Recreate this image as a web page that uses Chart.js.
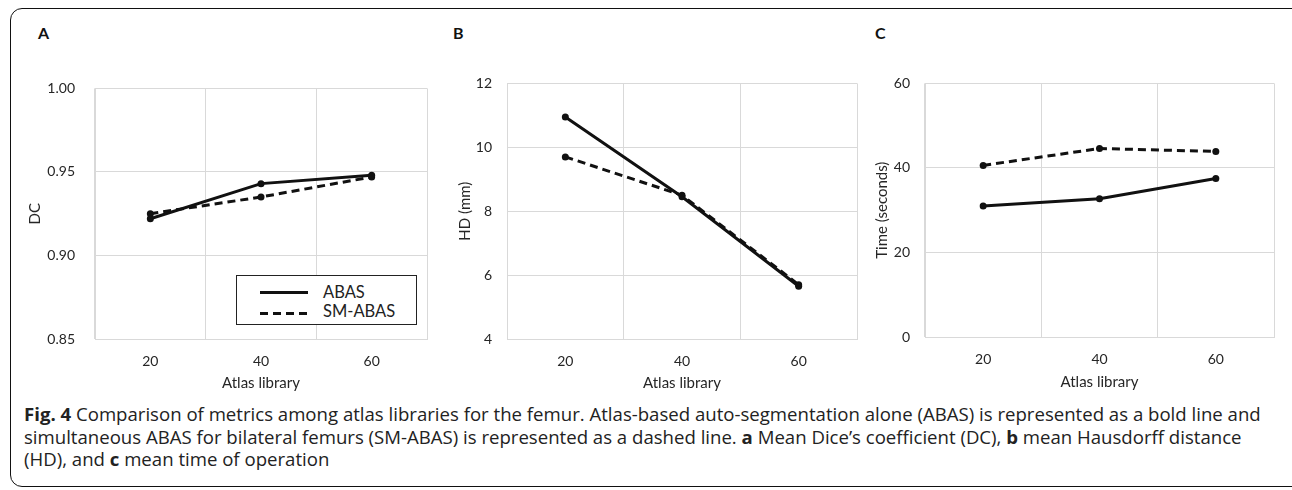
<!DOCTYPE html>
<html>
<head>
<meta charset="utf-8">
<script src="https://cdn.jsdelivr.net/npm/chart.js@4/dist/chart.umd.min.js"></script>
<style>
  body { margin: 0; background: #fff; width: 1292px; height: 490px; overflow: hidden; position: relative; }
  #frame { position: absolute; left: 10px; top: 8px; width: 1300px; height: 477px; border: 1.5px solid #111; border-radius: 12px; }
  canvas { position: absolute; }
  .letter { position: absolute; font: bold 16px Lato, sans-serif; color: #111; }
  #legendA { position: absolute; left: 236px; top: 275px; width: 179px; height: 48px; border: 1px solid #222; background: #fff; }
  .sample { position: absolute; left: 23px; width: 48px; height: 3px; }
  .solid { background: #111; }
  .dashed { background: repeating-linear-gradient(90deg, #111 0 8px, transparent 8px 13px); }
  .ltext { position: absolute; left: 86px; font: 16.5px Lato, sans-serif; color: #222; line-height: 18px; }
  #caption { position: absolute; left: 24px; top: 403px; font: 18.6px "Open Sans", sans-serif; line-height: 22.5px; color: #222; white-space: nowrap; }
</style>
</head>
<body>
<div id="frame"></div>
<div class="letter" style="left:38px;top:23px">A</div>
<div class="letter" style="left:453px;top:23px">B</div>
<div class="letter" style="left:875px;top:23px">C</div>

<canvas id="chartA" width="440" height="332" style="left:0px;top:60px"></canvas>
<canvas id="chartB" width="430" height="332" style="left:440px;top:60px"></canvas>
<canvas id="chartC" width="432" height="331" style="left:860px;top:60px"></canvas>

<div id="legendA">
  <div class="sample solid" style="top:15px"></div>
  <div class="ltext" style="top:7px">ABAS</div>
  <div class="sample dashed" style="top:36px"></div>
  <div class="ltext" style="top:26px">SM-ABAS</div>
</div>

<div id="caption"><b>Fig. 4</b> Comparison of metrics among atlas libraries for the femur. Atlas-based auto-segmentation alone (ABAS) is represented as a bold line and<br>simultaneous ABAS for bilateral femurs (SM-ABAS) is represented as a dashed line. <b>a</b> Mean Dice’s coefficient (DC), <b>b</b> mean Hausdorff distance<br>(HD), and <b>c</b> mean time of operation</div>

<script>
// atlas library sizes on the x axis
var atlasSizes = ['20', '40', '60'];

// A: Dice coefficient
var dcAbas = [0.922, 0.943, 0.948];
var dcSmAbas = [0.925, 0.935, 0.947];

// B: Hausdorff distance (mm)
var hdAbas = [10.95, 8.45, 5.65];
var hdSmAbas = [9.7, 8.5, 5.7];

// C: time of operation (seconds)
var timeAbas = [31.0, 32.7, 37.5];
var timeSmAbas = [40.6, 44.6, 43.9];

Chart.defaults.font.family = 'Lato, sans-serif';
Chart.defaults.color = '#262626';

var gridColour = '#d9d9d9';

// one panel; box holds the layout numbers so the plot area lands where the figure has it
function makePanel(id, yTitle, abas, smAbas, yMin, yMax, yStep, decimals, box) {
    var ctx = document.getElementById(id).getContext('2d');
    return new Chart(ctx, {
        type: 'line',
        data: {
            labels: atlasSizes,
            datasets: [
                {
                    label: 'ABAS',
                    data: abas,
                    borderColor: '#111',
                    backgroundColor: '#111',
                    borderWidth: 3,
                    pointRadius: 3.5,
                    pointBorderWidth: 0,
                    tension: 0
                },
                {
                    label: 'SM-ABAS',
                    data: smAbas,
                    borderColor: '#111',
                    backgroundColor: '#111',
                    borderWidth: 3,
                    borderDash: [8, 5],
                    pointRadius: 3.5,
                    pointBorderWidth: 0,
                    tension: 0
                }
            ]
        },
        options: {
            responsive: false,
            animation: false,
            devicePixelRatio: 1,
            layout: { padding: { left: box.padLeft, right: box.padRight, top: box.padTop, bottom: 0 } },
            plugins: { legend: { display: false }, tooltip: { enabled: false } },
            scales: {
                x: {
                    type: 'category',
                    offset: true,
                    grid: { offset: true, color: gridColour, drawTicks: false },
                    border: { color: gridColour },
                    ticks: { padding: 14, font: { size: 14 }, color: '#262626' },
                    title: { display: true, text: 'Atlas library', padding: 0, font: { size: 15 }, color: '#262626' },
                    afterFit: function (scale) { scale.height = box.xHeight; }
                },
                y: {
                    min: yMin,
                    max: yMax,
                    grid: { color: gridColour, drawTicks: false },
                    border: { color: gridColour },
                    ticks: {
                        stepSize: yStep,
                        padding: box.tickPad,
                        font: { size: 14 },
                        color: '#262626',
                        callback: function (v) { return Number(v).toFixed(decimals); }
                    },
                    title: { display: true, text: yTitle, padding: 0, font: { size: 15 }, color: '#262626' },
                    afterFit: function (scale) { scale.width = box.yWidth; }
                }
            }
        }
    });
}

makePanel('chartA', 'DC', dcAbas, dcSmAbas, 0.85, 1.00, 0.05, 2,
    { padLeft: 26, yWidth: 69, padRight: 13, padTop: 23, xHeight: 53, tickPad: 20 });
makePanel('chartB', 'HD (mm)', hdAbas, hdSmAbas, 4, 12, 2, 0,
    { padLeft: 16, yWidth: 51, padRight: 13, padTop: 23, xHeight: 53, tickPad: 15 });
makePanel('chartC', 'Time (seconds)', timeAbas, timeSmAbas, 0, 60, 20, 0,
    { padLeft: 13, yWidth: 52, padRight: 18, padTop: 21, xHeight: 54, tickPad: 15 });
</script>
</body>
</html>
